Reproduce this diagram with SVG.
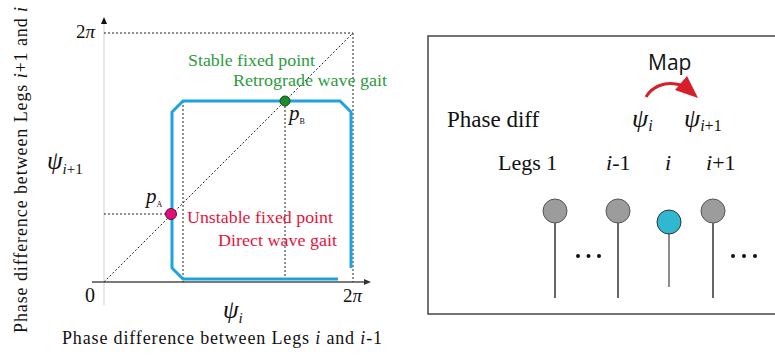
<svg xmlns="http://www.w3.org/2000/svg" width="775" height="355" viewBox="0 0 775 355">
<style>
.serif{font-family:"Liberation Serif","Times New Roman",serif;fill:#111}
.it{font-style:italic}
.dot{stroke:#222;stroke-width:1;stroke-dasharray:2,2;fill:none}
.green{fill:#2e9a40}
.red{fill:#e8143c}
.leg{stroke:#333;stroke-width:1.5}
.gcirc{fill:#9c9c9c;stroke:#555;stroke-width:1}
.bd{fill:#111}
</style>
<rect width="775" height="355" fill="#fff"/>

<g id="plot">
<g id="axes">
<line x1="104" y1="305" x2="104" y2="19" stroke="#d8d8d8" stroke-width="1.2"/>
<path d="M104,17 L101,24 L107,24 z" fill="#111"/>
<line x1="92" y1="282" x2="368" y2="282" stroke="#7a7a7a" stroke-width="2"/>
<path d="M371,282 L364,279 L364,285 z" fill="#333"/>
</g>
<g id="guides">
<line class="dot" x1="104" y1="33" x2="353" y2="33"/>
<line class="dot" x1="353" y1="33" x2="353" y2="282"/>
<line class="dot" x1="104" y1="282" x2="353" y2="33"/>
<line class="dot" x1="183" y1="101" x2="183" y2="282"/>
<line class="dot" x1="285" y1="106" x2="285" y2="282"/>
<line class="dot" x1="104" y1="214" x2="171" y2="214"/>
</g>
<path id="map-curve" d="M338,279 L183,279 L172,268 L172,112 L183,101 L340,101 L351,112 L351,268" fill="none" stroke="#1ea3e0" stroke-width="3"/>
<g id="pB">
<circle cx="285" cy="101" r="5" fill="#1e8a2e" stroke="#124d1a" stroke-width="1"/>
<text class="serif it" x="289" y="120" font-size="21">p</text>
<text class="serif" x="299.5" y="124" font-size="8">B</text>
</g>
<g id="pA">
<circle cx="171" cy="214" r="5.5" fill="#e0107a" stroke="#6a0a3a" stroke-width="1"/>
<text class="serif it" x="146" y="203" font-size="21">p</text>
<text class="serif" x="156.5" y="207" font-size="8">A</text>
</g>
<text class="serif green" x="188" y="66" font-size="17.5" textLength="127" lengthAdjust="spacingAndGlyphs">Stable fixed point</text>
<text class="serif green" x="233" y="86" font-size="17.5" textLength="154" lengthAdjust="spacingAndGlyphs">Retrograde wave gait</text>
<text class="serif red" x="187" y="223" font-size="17.5" textLength="146" lengthAdjust="spacingAndGlyphs">Unstable fixed point</text>
<text class="serif red" x="218" y="246" font-size="17.5" textLength="119" lengthAdjust="spacingAndGlyphs">Direct wave gait</text>
<text class="serif" x="85" y="302" font-size="20">0</text>
<text class="serif" x="343" y="302" font-size="19">2<tspan class="it">π</tspan></text>
<text class="serif" x="76" y="38" font-size="19">2<tspan class="it">π</tspan></text>
<text class="serif" x="223" y="318" font-size="25"><tspan class="it">ψ</tspan><tspan class="it" font-size="15" dy="5">i</tspan></text>
<text class="serif" x="47" y="169" font-size="25"><tspan class="it">ψ</tspan><tspan font-size="15" dy="5"><tspan class="it">i</tspan>+1</tspan></text>
<text class="serif" x="62" y="344" font-size="18" textLength="320" lengthAdjust="spacing">Phase difference between Legs <tspan class="it">i</tspan> and <tspan class="it">i</tspan>-1</text>
<text class="serif" transform="translate(27,333) rotate(-90)" x="0" y="0" font-size="18" textLength="326" lengthAdjust="spacing">Phase difference between Legs <tspan class="it">i</tspan>+1 and <tspan class="it">i</tspan></text>
</g>

<g id="legs-panel">
<rect x="428" y="36" width="360" height="278" fill="none" stroke="#444" stroke-width="1.5"/>
<text x="648" y="70" font-size="21" font-family="'Open Sans','Liberation Sans',sans-serif" fill="#111">Map</text>
<g id="map-arrow">
<path d="M646,97 C651,88 664,80 681,85" fill="none" stroke="#d81e2a" stroke-width="3"/>
<path d="M698,98 L675,90 L687,76 z" fill="#d81e2a"/>
</g>
<text class="serif" x="447" y="127" font-size="23">Phase diff</text>
<text class="serif" x="632" y="127" font-size="26"><tspan class="it">ψ</tspan><tspan class="it" font-size="16" dy="4">i</tspan></text>
<text class="serif" x="684" y="127" font-size="26"><tspan class="it">ψ</tspan><tspan font-size="16" dy="4"><tspan class="it">i</tspan>+1</tspan></text>
<text class="serif" x="498" y="170" font-size="22">Legs 1</text>
<text class="serif" x="606" y="170" font-size="22"><tspan class="it">i</tspan>-1</text>
<text class="serif it" x="665" y="170" font-size="22">i</text>
<text class="serif" x="706" y="170" font-size="22"><tspan class="it">i</tspan>+1</text>
<g id="leg1"><line class="leg" x1="555" y1="223" x2="555" y2="298"/><circle class="gcirc" cx="555" cy="211" r="12"/></g>
<g id="leg-im1"><line class="leg" x1="618" y1="223" x2="618" y2="298"/><circle class="gcirc" cx="618" cy="211" r="12"/></g>
<g id="leg-i"><line x1="669" y1="234" x2="669" y2="287" stroke="#666" stroke-width="1.5"/><circle cx="669" cy="222" r="12" fill="#2fb8d0" stroke="#333" stroke-width="1"/></g>
<g id="leg-ip1"><line class="leg" x1="713" y1="223" x2="713" y2="298"/><circle class="gcirc" cx="713" cy="211" r="12"/></g>
<g id="dots">
<circle class="bd" cx="578" cy="256" r="2"/><circle class="bd" cx="588.5" cy="256" r="2"/><circle class="bd" cx="599" cy="256" r="2"/>
<circle class="bd" cx="733" cy="256" r="2"/><circle class="bd" cx="744" cy="256" r="2"/><circle class="bd" cx="755" cy="256" r="2"/>
</g>
</g>
</svg>
